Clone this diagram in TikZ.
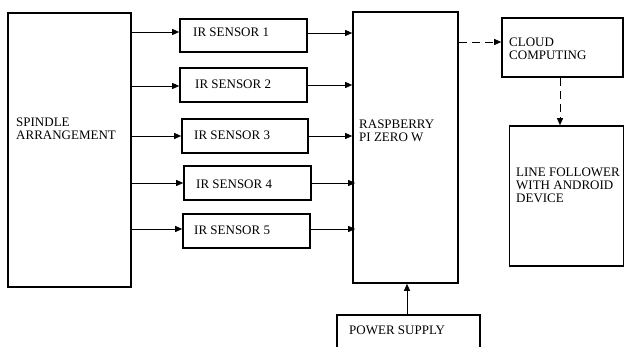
\documentclass[tikz,border=0pt]{standalone}
\usepackage{fontspec}
\setmainfont{Liberation Serif}
\usetikzlibrary{arrows.meta}
\begin{document}
\begin{tikzpicture}[x=1pt,y=-1pt,
  blk/.style={draw,line width=1.6pt,rectangle,inner sep=0pt},
  lbl/.style={anchor=north west,inner sep=0pt,align=left,font=\fontsize{13}{13}\selectfont},
  con/.style={line width=0.8pt,-{Triangle[length=7pt,width=6pt]}},
  dcon/.style={con,dash pattern=on 8pt off 5pt}]
\useasboundingbox (0,0) rectangle (625,347);
\clip (0,0) rectangle (625,347);
% blocks
\node[blk,minimum width=123pt,minimum height=274pt] (sp) at (69.5,150) {};
\node[blk,minimum width=127pt,minimum height=33pt] (s1) at (243.5,35.5) {};
\node[blk,minimum width=127pt,minimum height=34pt] (s2) at (243.5,85) {};
\node[blk,minimum width=126pt,minimum height=34pt] (s3) at (245,136) {};
\node[blk,minimum width=127pt,minimum height=34pt] (s4) at (247.5,183) {};
\node[blk,minimum width=127pt,minimum height=34pt] (s5) at (246.5,231) {};
\node[blk,minimum width=105pt,minimum height=271pt] (rp) at (405.5,147.5) {};
\node[blk,minimum width=121pt,minimum height=59pt] (cc) at (562.5,47.5) {};
\node[blk,minimum width=114pt,minimum height=140pt] (lf) at (566.5,196) {};
\node[blk,minimum width=143pt,minimum height=45pt] (ps) at (408.5,337.5) {};
% labels
\node[lbl] (tsp) at (16,118) {SPINDLE\\ARRANGEMENT};
\node[lbl] (t1) at (193,28) {IR SENSOR 1};
\node[lbl] (t2) at (195,80) {IR SENSOR 2};
\node[lbl] (t3) at (194,131) {IR SENSOR 3};
\node[lbl] (t4) at (196,180) {IR SENSOR 4};
\node[lbl] (t5) at (194,226) {IR SENSOR 5};
\node[lbl] (trp) at (359,120) {RASPBERRY\\PI ZERO W};
\node[lbl] (tcc) at (509,38) {CLOUD\\COMPUTING};
\node[lbl] (tlf) at (516,168) {LINE FOLLOWER\\WITH ANDROID\\DEVICE};
\node[lbl] (tps) at (349,326) {POWER SUPPLY};
% connectors
\coordinate (a1) at (131,32);
\coordinate (a2) at (131,86);
\coordinate (a3) at (131,136);
\coordinate (a4) at (131,183);
\coordinate (a5) at (131,229);
\draw[con] (a1) -- (a1 -| s1.west);
\draw[con] (a2) -- (a2 -| s2.west);
\draw[con] (a3) -- (a3 -| s3.west);
\draw[con] (a4) -- (a4 -| s4.west);
\draw[con] (a5) -- (a5 -| s5.west);
\draw[con] (s1.east |- 0,33) -- (rp.west |- 0,33);
\draw[con] (s2.east |- 0,85) -- (rp.west |- 0,85);
\draw[con] (s3.east |- 0,136) -- (rp.west |- 0,136);
\draw[con] (s4.east |- 0,183) -- ([xshift=3pt]rp.west |- 0,183);
\draw[con] (s5.east |- 0,229) -- ([xshift=3pt]rp.west |- 0,229);
\draw[con] (ps.north -| 407,0) -- (rp.south -| 407,0);
\draw[dcon] (rp.east |- 0,42) -- (cc.west |- 0,42);
\draw[dcon] (cc.south -| 560,0) -- (lf.north -| 560,0);
\end{tikzpicture}
\end{document}
